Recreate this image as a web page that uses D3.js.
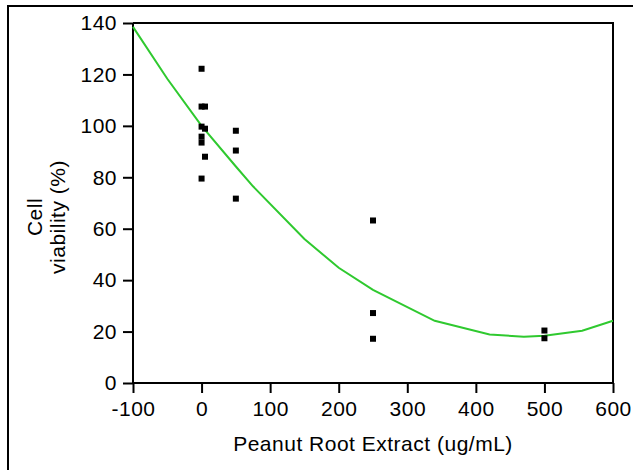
<!DOCTYPE html>
<html>
<head>
<meta charset="utf-8">
<script src="https://cdn.jsdelivr.net/npm/d3@7"></script>
<style>
  body { margin: 0; background: #fff; }
  text { font-family: "Liberation Sans", Arial, sans-serif; fill: #000; letter-spacing: 0.5px; }
</style>
</head>
<body>
<svg id="main" width="633" height="470"></svg>
<script>
    // measured points
    const doseX = [0, 0, 5, 0, 5, 0, 0, 5, 0, 50, 50, 50, 250, 250, 250, 500, 500];
    const viabY = [122.2, 107.5, 107.5, 99.7, 98.9, 95.8, 93.5, 88.0, 79.5, 98.1, 90.4, 71.7, 63.2, 27.2, 17.2, 20.4, 17.4];

    // fitted curve
    const fitX = [-100, -50, 0, 50, 75, 150, 200, 250, 340, 420, 470, 500, 555, 600];
    const fitY = [138.5, 118.3, 100, 84.2, 76.5, 56, 44.8, 36.2, 24.2, 18.9, 18.0, 18.4, 20.3, 24.2];

    const xTicks = [-100, 0, 100, 200, 300, 400, 500, 600];
    const yTicks = [0, 20, 40, 60, 80, 100, 120, 140];

    const svg = d3.select('svg#main');
    const pLeft = 133, pRight = 613, pTop = 23, pBottom = 383;

    // outer frame (runs off the page at right/bottom)
    svg.append("rect")
        .attr("x", 8).attr("y", 6)
        .attr("width", 640).attr("height", 480)
        .attr("fill", "none")
        .attr("stroke", "#000")
        .attr("stroke-width", 2);

    const xAx = d3.scaleLinear().domain([-100, 600]).range([pLeft, pRight]);
    const yAx = d3.scaleLinear().domain([0, 140]).range([pBottom, pTop]);

    // top and right frame of plot
    svg.append("path")
        .attr("d", `M${pLeft},${pTop}H${pRight}V${pBottom}`)
        .attr("fill", "none")
        .attr("stroke", "#000")
        .attr("stroke-width", 2);

    const fmt = d => String(d);   // plain hyphen, not d3's minus sign
    const gx = svg.append("g")
        .attr("transform", "translate(0," + pBottom + ")")
        .call(d3.axisBottom(xAx).tickValues(xTicks).tickFormat(fmt).tickSize(10).tickSizeOuter(0).tickPadding(8));
    const gy = svg.append("g")
        .attr("transform", "translate(" + pLeft + ",0)")
        .call(d3.axisLeft(yAx).tickValues(yTicks).tickFormat(fmt).tickSize(10).tickSizeOuter(0).tickPadding(6));

    [gx, gy].forEach(g => {
        g.attr("font-size", null).attr("font-family", null);
        g.selectAll("path,line").attr("stroke", "#000").attr("stroke-width", 2);
        g.selectAll("text").style("font-size", "21px").attr("fill", "#000");
    });
    gx.select(".domain").attr("d", `M${pLeft},0H${pRight}`);
    gy.select(".domain").attr("d", `M0,${pBottom}V${pTop}`);

    // fitted line
    let line = d3.line()
        .x((d, i) => xAx(fitX[i]))
        .y((d, i) => yAx(fitY[i]));
    svg.append("path")
        .datum(fitX)
        .attr("d", line)
        .attr("fill", "none")
        .style("stroke", "#2fc92f")
        .style("stroke-width", "2px");

    // data squares
    svg.append("g")
        .selectAll("rect")
        .data(doseX)
        .enter()
        .append("rect")
        .attr("x", (d, i) => xAx(d) - 3)
        .attr("y", (d, i) => yAx(viabY[i]) - 3)
        .attr("width", 6)
        .attr("height", 6)
        .attr("fill", "#000");

    // axis labels
    svg.append("text")
        .attr("text-anchor", "middle")
        .attr("x", (pLeft + pRight) / 2)
        .attr("y", 451)
        .style("font-size", "21px")
        .text("Peanut Root Extract (ug/mL)");

    const yl = svg.append("text")
        .attr("text-anchor", "middle")
        .attr("transform", "translate(42,217) rotate(-90)")
        .style("font-size", "21px");
    yl.append("tspan").attr("x", 0).attr("y", 0).text("Cell");
    yl.append("tspan").attr("x", 0).attr("y", 23).text("viability (%)");
</script>
</body>
</html>
